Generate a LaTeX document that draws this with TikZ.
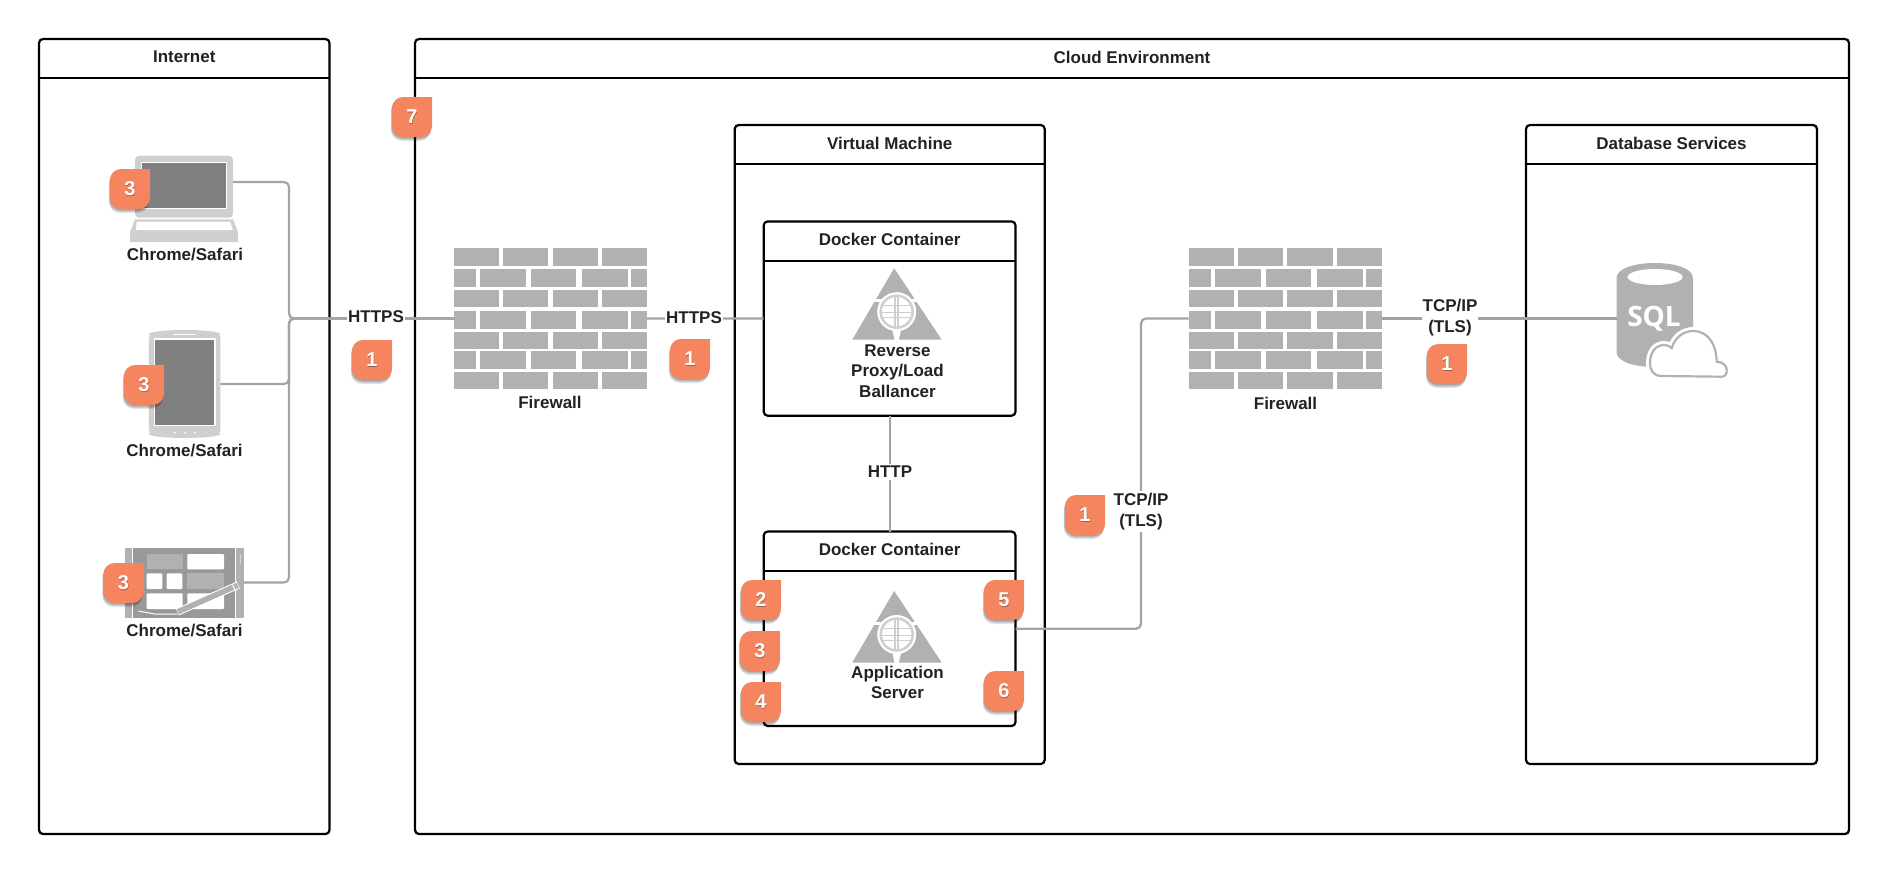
\documentclass[tikz,border=0pt]{standalone}
\usepackage{fontspec}
\setmainfont{Liberation Sans}
\newfontfamily\sqlfont{Open Sans}
\definecolor{ink}{HTML}{222222}
\definecolor{linkgray}{HTML}{A3A3A3}
\definecolor{brickgray}{HTML}{B1B1B1}
\definecolor{devgray}{HTML}{CFCFCF}
\definecolor{screengray}{HTML}{808080}
\definecolor{badgeorange}{HTML}{F5855F}
\tikzset{
 panel/.style={draw=black,line width=2.2pt,rounded corners=4pt,inner sep=0pt,outer sep=0pt},
 panelrule/.style={draw=black,line width=2.2pt},
 textlabel/.style={text=ink,font=\fontsize{17}{20.7}\selectfont\bfseries,align=center,inner sep=0pt,yshift=-1pt},
 edgelabel/.style={textlabel,fill=white,inner xsep=1pt,inner ysep=2pt},
 link/.style={draw=linkgray,line width=2.2pt},
 block/.style={inner sep=0pt,outer sep=0pt},
 firewallbricks/.pic={
  \foreach \ya/\yb in {0/17.5,42/59,83.5/101,123.5/141}
   \foreach \xa/\xb in {0/45,49/94,98.7/144,148/193}
    \fill[brickgray] (\xa,\ya) rectangle (\xb,\yb);
  \foreach \ya/\yb in {20.5/38.5,62.5/81,102.5/121}
   \foreach \xa/\xb in {0/22,26/72,77/122,128/174,177/193}
    \fill[brickgray] (\xa,\ya) rectangle (\xb,\yb);
 },
 servericon/.pic={
  \fill[brickgray] (-2.5,-43.5) -- (45,28) -- (-44.5,28) -- cycle;
  \fill[white] (-50,-13) rectangle (50,-10);
  \fill[white] (0,0) circle (19.5);
  \fill[white] (-5,15) -- (5,15) -- (2,29) -- (-2,29) -- cycle;
  \draw[devgray,line width=2.5pt] (0,0) circle (16);
  \draw[devgray,line width=1.5pt] (-15,-6) -- (15,-6) (-15,6) -- (15,6) (-15,1) -- (15,1);
  \draw[devgray,line width=1.5pt] (-1.5,-15) -- (-1.5,15) (1.5,-15) -- (1.5,15);
 }
}
\def\badgeshape{(40,0) -- (11,0) .. controls (5,0) and (0,5) .. (0,11) -- (0,29) .. controls (0,35) and (5,40) .. (11,40) -- (29,40) .. controls (35,40) and (40,35) .. (40,29) -- cycle}
\def\cloudshape{(1661.7,376) .. controls (1653,376) and (1650,370) .. (1650,363) .. controls (1650,352) and (1656,345) .. (1664,345) .. controls (1667,345) and (1670,346) .. (1671.7,348) .. controls (1675,337) and (1684,331) .. (1693,331) .. controls (1705,331) and (1716,340) .. (1716.7,361.7) .. controls (1723,362) and (1727,366) .. (1726.7,370) .. controls (1727,374) and (1725,376.7) .. (1721.7,376.7) -- cycle}
% name, left, top, digit
\newcommand{\badge}[4]{
 \begin{scope}[shift={(#2,#3)}]
  \foreach \s in {1,2,3,4}
   \fill[black,opacity=.10,shift={(-.3*\s,\s)}] \badgeshape;
  \fill[badgeorange] \badgeshape;
  \node[text=black,opacity=.3,inner sep=0pt,font=\fontsize{20}{20}\selectfont\bfseries] (#1s) at (20.5,21) {#4};
  \node[text=white,inner sep=0pt,font=\fontsize{20}{20}\selectfont\bfseries] (#1) at (20,20) {#4};
 \end{scope}
}
\begin{document}
\begin{tikzpicture}[x=1pt,y=-1pt]
 \useasboundingbox (0,0) rectangle (1889,873);
 % frames
 \foreach \nm/\xa/\ya/\xb/\yb/\ttl in {internet/39/39/329.5/834/Internet,cloud/415/39/1849/834/Cloud Environment,
   vm/734.7/125/1044.7/764/Virtual Machine,dbs/1526/125/1817/764/Database Services,
   proxy/763.7/221.4/1015.5/415.7/Docker Container,app/763.7/531.5/1015.5/726/Docker Container}{
  \node[panel,minimum width={\xb-\xa},minimum height={\yb-\ya}] (\nm) at ({(\xa+\xb)/2},{(\ya+\yb)/2}) {};
  \draw[panelrule] ([yshift=-39.3pt]\nm.north west) -- ([yshift=-39.3pt]\nm.north east);
  \node[textlabel] (\nm title) at ([yshift=-17pt]\nm.north) {\ttl};
 }
 % laptop
 \fill[devgray] (135,219.3) -- (233,219.3) -- (238,232) -- (238,242) -- (130,242) -- (130,232) -- cycle;
 \fill[white] (136.7,221.7) -- (230,221.7) -- (233,230) -- (136,230) -- cycle;
 \node[block,fill=devgray,rounded corners=4pt,minimum width=98,minimum height=62] (laptop) at (184,186.7) {};
 \node[block,fill=screengray,draw=white,line width=1.3pt,minimum width=85,minimum height=45.6] (laptopscreen) at (184.2,185.5) {};
 \node[textlabel] (laptoplabel) at (185,254) {Chrome/Safari};
 % phone
 \fill[devgray] (184.7,334) ellipse [x radius=35.7,y radius=4];
 \fill[devgray] (184.7,434) ellipse [x radius=35.7,y radius=4];
 \node[block,fill=devgray,rounded corners=7pt,minimum width=71.5,minimum height=104] (phone) at (184.7,384) {};
 \node[block,fill=screengray,draw=white,line width=1.3pt,minimum width=60.7,minimum height=86.7] (phonescreen) at (184.7,382.4) {};
 \draw[white,line width=1.5pt,line cap=round] (174,334.5) -- (195,334.5);
 \foreach \x in {175,185,195}
  \fill[white] (\x,432.7) circle (1);
 \node[textlabel] (phonelabel) at (184.5,450) {Chrome/Safari};
 % tablet
 \node[block,fill=brickgray,minimum width=6.7,minimum height=70] (tabletleft) at (128.3,582.5) {};
 \node[block,fill=brickgray,minimum width=8,minimum height=70] (tablet) at (240,582.5) {};
 \node[block,fill=black!40,minimum width=102,minimum height=70] (tabletbody) at (184,582.5) {};
 \foreach \xa/\ya/\xb/\yb in {187.3/554/224/569.3,146.7/573.3/162.3/589,166.7/573.3/182.3/589,146.7/593.3/182.7/609,187.3/593.3/224/609}
  \fill[white,rounded corners=1pt] (\xa,\ya) rectangle (\xb,\yb);
 \foreach \xa/\ya/\xb/\yb in {146.7/554/182.7/569.3,187.3/573.3/224/589}
  \fill[brickgray] (\xa,\ya) rectangle (\xb,\yb);
 \draw[white,line width=1pt] (138.3,611) -- (155,614) -- (177.3,614);
 \draw[white,line width=7.5pt] (177.3,612) -- (238.3,585);
 \draw[brickgray,line width=5.5pt] (177.8,611.8) -- (237.8,585.2);
 \draw[white,line width=1pt] (232.5,584.5) -- (235.5,591);
 \foreach \y in {555,557.7,560,562.3}
  \fill[white] (240.3,\y) circle (.7);
 \node[textlabel] (tabletlabel) at (184.5,630) {Chrome/Safari};
 % firewalls
 \node[block,minimum width=193,minimum height=141] (fwa) at (550.5,318.5) {};
 \pic at (fwa.north west) {firewallbricks};
 \node[textlabel] (fwalabel) at (550,401) {Firewall};
 \node[block,minimum width=193,minimum height=141] (fwb) at (1285,318.5) {};
 \pic at (fwb.north west) {firewallbricks};
 \node[textlabel] (fwblabel) at (1285.5,402) {Firewall};
 % servers
 \pic at (896.7,311.7) {servericon};
 \node[textlabel] (proxylabel) at (897.5,370) {Reverse\\Proxy/Load\\Ballancer};
 \pic at (896.7,634.5) {servericon};
 \node[textlabel] (applabel) at (897.5,681.5) {Application\\Server};
 % sql
 \fill[brickgray] (1616.5,278) .. controls (1616.5,258) and (1693,258) .. (1693,278) -- (1693,352) .. controls (1693,372) and (1616.5,372) .. (1616.5,352) -- cycle;
 \fill[white] (1655,277) ellipse [x radius=27.5,y radius=8];
 \node[block,text=white,font=\fontsize{28}{28}\selectfont\sqlfont\bfseries] (sql) at (1654,319) {SQL};
 \coordinate (sqlport) at (1616.5,318.5);
 \draw[white,fill=white,line width=8pt] \cloudshape;
 \draw[draw=black!30,fill=white,line width=2.2pt] \cloudshape;
 % connectors
 \coordinate (bus) at (289,318.5);
 \draw[link,rounded corners=5pt] ([yshift=4.7pt]laptop.east) -| (bus) -- (fwa.west);
 \draw[link,rounded corners=5pt] (phone.east) -| (bus) -- (fwa.west);
 \draw[link,rounded corners=5pt] (tablet.east) -| (bus) -- (fwa.west);
 \draw[link] (fwa.east) -- (proxy.west);
 \draw[link] (proxy.south -| proxytitle) -- (app.north -| proxytitle);
 \draw[link,rounded corners=5pt] (app.east) -| (1141,318.5) -- (fwb.west);
 \draw[link] (fwb.east) -- (sqlport);
 \node[edgelabel] (httpsa) at (376,316) {HTTPS};
 \node[edgelabel] (httpsb) at (694,317) {HTTPS};
 \node[edgelabel] (http) at (890,471) {HTTP};
 \node[edgelabel] (tcpa) at (1141,510.5) {TCP/IP\\(TLS)};
 \node[edgelabel] (tcpb) at (1450,316.5) {TCP/IP\\(TLS)};
 % badges
 \badge{bseven}{392}{97}{7}
 \badge{blaptop}{110}{169}{3}
 \badge{bphone}{124}{365}{3}
 \badge{btablet}{103.5}{563}{3}
 \badge{bhttpsa}{352}{340}{1}
 \badge{bhttpsb}{670}{339}{1}
 \badge{btcpa}{1065}{495}{1}
 \badge{btcpb}{1427}{344}{1}
 \badge{btwo}{741}{580}{2}
 \badge{bthree}{740}{631}{3}
 \badge{bfour}{741}{682}{4}
 \badge{bfive}{984}{580}{5}
 \badge{bsix}{984}{671}{6}
\end{tikzpicture}
\end{document}
